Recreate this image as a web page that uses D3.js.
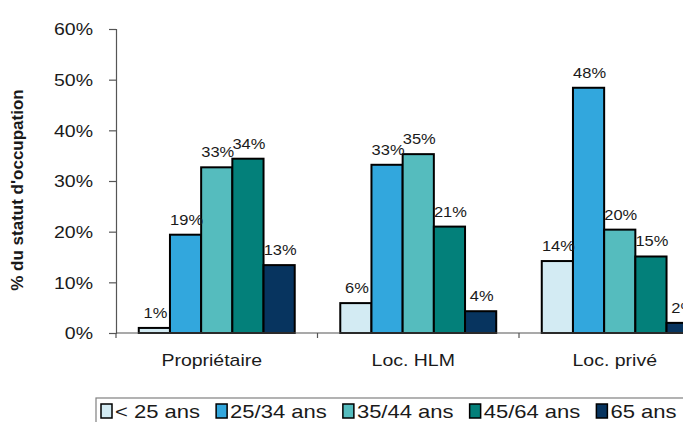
<!DOCTYPE html>
<html>
<head>
<meta charset="utf-8">
<script src="https://cdn.jsdelivr.net/npm/d3@7"></script>
<style>
  html, body { margin: 0; padding: 0; background: #fff; }
  svg { display: block; }
  text { font-family: "Liberation Sans", Arial, sans-serif; fill: #1a1a1a; }
</style>
</head>
<body>
<svg id="chart" width="683" height="422"></svg>
<script>
// ---- data ----
const categories = ["Propriétaire", "Loc. HLM", "Loc. privé"];
const seriesNames = ["< 25 ans", "25/34 ans", "35/44 ans", "45/64 ans", "65 ans"];
const seriesColors = ["#d3ebf3", "#32a7dd", "#55bcbe", "#03807a", "#07345f"];
const valsUnder25 = [1.0, 5.9, 14.2];
const vals25to34  = [19.4, 33.2, 48.4];
const vals35to44  = [32.7, 35.3, 20.4];
const vals45to64  = [34.4, 21.0, 15.1];
const vals65plus  = [13.4, 4.3, 2.0];
const yTicks = [0, 10, 20, 30, 40, 50, 60];
const yTitle = "% du statut d'occupation";

const seriesValues = [valsUnder25, vals25to34, vals35to44, vals45to64, vals65plus];

// ---- layout ----
const svg = d3.select("#chart");
const SX = 1.16; // horizontal text stretch of the reference
const plot = { left: 116, top: 29, bottom: 333, catWidth: 201.5 };

const x0 = d3.scaleBand()
  .domain(categories)
  .range([plot.left, plot.left + categories.length * plot.catWidth])
  .paddingInner(0).paddingOuter(0);

const x1 = d3.scaleBand()
  .domain(seriesNames)
  .range([0, x0.bandwidth()])
  .paddingInner(0).paddingOuter(0.73);

const y = d3.scaleLinear().domain([0, 60]).range([plot.bottom, plot.top]);

// ---- bars ----
const data = [];
categories.forEach((c, ci) => {
  seriesNames.forEach((s, si) => {
    data.push({ cat: c, ser: s, si, v: seriesValues[si][ci] });
  });
});

svg.append("g").selectAll("rect")
  .data(data).join("rect")
  .attr("x", d => x0(d.cat) + x1(d.ser))
  .attr("y", d => y(d.v))
  .attr("width", x1.bandwidth())
  .attr("height", d => y(0) - y(d.v))
  .attr("fill", d => seriesColors[d.si])
  .attr("stroke", "#000")
  .attr("stroke-width", 2);

// bar labels
svg.append("g").selectAll("text")
  .data(data).join("text")
  .attr("transform", d => `translate(${x0(d.cat) + x1(d.ser) + x1.bandwidth() / 2 + 1},${y(d.v) - 10}) scale(${SX},1)`)
  .attr("text-anchor", "middle")
  .style("font-size", "14.2px")
  .text(d => Math.round(d.v) + "%");

// ---- y axis ----
const yAxis = d3.axisLeft(y)
  .tickValues(yTicks)
  .tickSize(7)
  .tickPadding(9)
  .tickFormat(d => d + "%");

const gy = svg.append("g")
  .attr("transform", `translate(${plot.left},0)`)
  .call(yAxis);
gy.select(".domain").attr("stroke", "#555").attr("stroke-width", 1.2);
gy.selectAll(".tick line").attr("stroke", "#555").attr("stroke-width", 1.2);
gy.selectAll(".tick text")
  .attr("x", null).attr("dy", "0.35em")
  .attr("transform", `translate(-23,0) scale(${SX},1)`)
  .attr("text-anchor", "end")
  .style("font-size", "16.8px")
  .attr("fill", "#1a1a1a")
  .attr("font-family", null);

// ---- x axis ----
const gx = svg.append("g");
gx.append("line")
  .attr("x1", x0.range()[0]).attr("x2", 700)
  .attr("y1", plot.bottom).attr("y2", plot.bottom)
  .attr("stroke", "#555").attr("stroke-width", 1.2);
gx.selectAll("line.tk")
  .data(categories).join("line").attr("class", "tk")
  .attr("x1", d => x0(d)).attr("x2", d => x0(d))
  .attr("y1", plot.bottom).attr("y2", plot.bottom + 5)
  .attr("stroke", "#555").attr("stroke-width", 1.2);
gx.selectAll("text")
  .data(categories).join("text")
  .attr("transform", d => `translate(${x0(d) + x0.bandwidth() / 2 - 5},366) scale(${SX},1)`)
  .attr("text-anchor", "middle")
  .style("font-size", "16.8px")
  .text(d => d);

// ---- y title ----
svg.append("text")
  .attr("transform", "translate(23,190) rotate(-90)")
  .attr("text-anchor", "middle")
  .style("font-size", "17px")
  .style("font-weight", "bold")
  .text(yTitle);

// ---- legend ----
const lg = svg.append("g");
lg.append("rect")
  .attr("x", 96).attr("y", 398)
  .attr("width", 700).attr("height", 60)
  .attr("fill", "none").attr("stroke", "#808080").attr("stroke-width", 1.2);

let cx = 101;
seriesNames.forEach((s, i) => {
  lg.append("rect")
    .attr("x", cx).attr("y", 404)
    .attr("width", 11).attr("height", 14)
    .attr("fill", seriesColors[i]).attr("stroke", "#000").attr("stroke-width", 1.5);
  const t = lg.append("text")
    .attr("transform", `translate(${cx + 14},418) scale(${SX},1)`)
    .style("font-size", "19px")
    .text(s);
  const w = t.node().getComputedTextLength() * SX;
  cx = cx + 14 + w + 16;
});
</script>
</body>
</html>
